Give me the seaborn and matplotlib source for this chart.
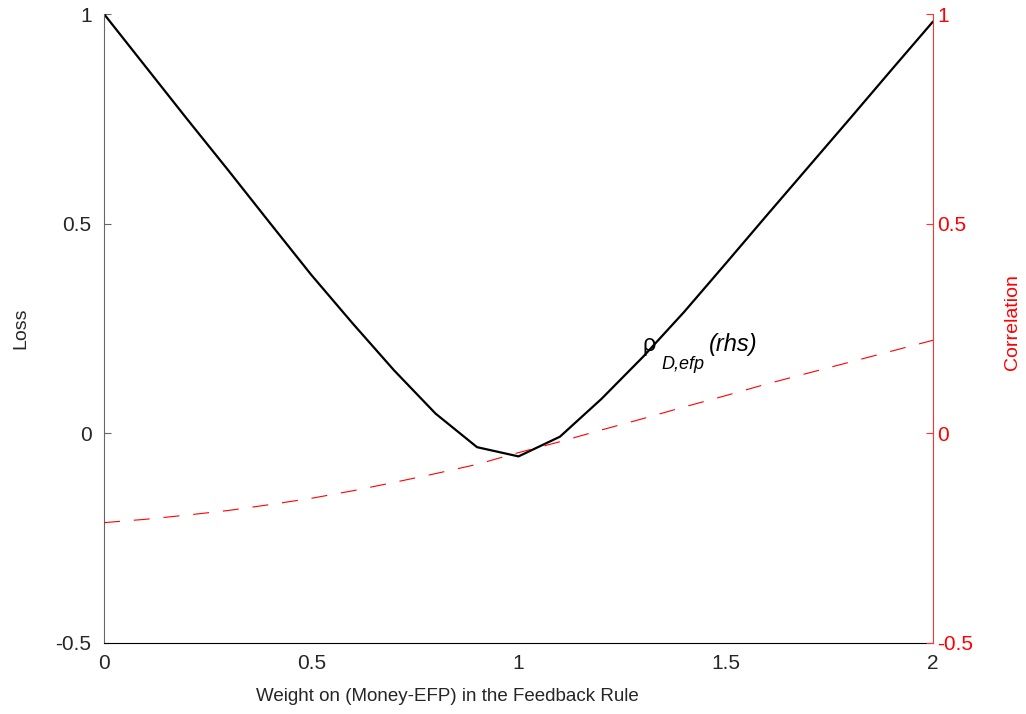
import numpy as np
import pandas as pd
import matplotlib
matplotlib.use("Agg")
import matplotlib.pyplot as plt
import seaborn as sns

# ---- data ----
weights = [0.0, 0.1, 0.2, 0.3, 0.4, 0.5, 0.6, 0.7, 0.8, 0.9, 1.0,
           1.1, 1.2, 1.3, 1.4, 1.5, 1.6, 1.7, 1.8, 1.9, 2.0]
loss = [1.000, 0.875, 0.750, 0.627, 0.502, 0.378, 0.262, 0.150, 0.047, -0.033, -0.055,
        -0.008, 0.082, 0.182, 0.290, 0.405, 0.521, 0.636, 0.751, 0.867, 0.982]
correlation = [-0.213, -0.205, -0.195, -0.184, -0.170, -0.155, -0.137, -0.117, -0.096, -0.074, -0.046,
               -0.020, 0.008, 0.035, 0.063, 0.090, 0.118, 0.144, 0.170, 0.196, 0.222]
x_ticks = [0, 0.5, 1, 1.5, 2]
x_ticklabels = ["0", "0.5", "1", "1.5", "2"]
y_ticks = [-0.5, 0, 0.5, 1]
y_ticklabels = ["-0.5", "0", "0.5", "1"]

df = pd.DataFrame({"w": weights, "loss": loss, "corr": correlation})

sns.set_style("white")
plt.rcParams["font.family"] = ["Liberation Sans", "DejaVu Sans"]

fig = plt.figure(figsize=(10.26, 7.14), dpi=100)
ax = fig.add_axes([104/1026, 1-643/714, (933-104)/1026, (643-14)/714])
ax2 = ax.twinx()

sns.lineplot(data=df, x="w", y="loss", ax=ax, color="black", lw=1.6)
lw2 = 0.8
sns.lineplot(data=df, x="w", y="corr", ax=ax2, color="red", lw=lw2)
ax2.lines[0].set_linestyle((0, (11.5/lw2, 10/lw2)))

for a in (ax, ax2):
    a.set_xlim(0, 2)
    a.set_ylim(-0.5, 1)
    a.grid(False)
    a.spines["top"].set_visible(False)

ax.spines["left"].set_color("#666666")
ax.spines["bottom"].set_color("black")
ax.spines["right"].set_visible(False)
ax2.spines["left"].set_visible(False)
ax2.spines["bottom"].set_visible(False)
ax2.spines["right"].set_color("#ff3333")

ax.set_xticks(x_ticks)
ax.set_xticklabels(x_ticklabels)
ax.set_yticks(y_ticks)
ax.set_yticklabels(y_ticklabels)
ax2.set_yticks(y_ticks)
ax2.set_yticklabels(y_ticklabels)

ax.tick_params(axis="x", direction="in", length=5, width=0.8, color="black",
               labelsize=15, pad=8)
ax.tick_params(axis="y", direction="in", length=5, width=0.8, color="#666666",
               labelsize=15, pad=9, left=True)
ax2.tick_params(axis="y", direction="in", length=5, width=0.8, color="#ff3333",
                labelsize=15, pad=3, labelcolor="red", right=True)

ax.set_xlabel("Weight on (Money-EFP) in the Feedback Rule", fontsize=13.5)
ax.xaxis.set_label_coords(0.414, -0.072)
ax.set_ylabel("Loss", fontsize=14)
ax.yaxis.set_label_coords(-0.09, 0.5)
ax2.set_ylabel("Correlation", fontsize=14, color="red")
ax2.yaxis.set_label_coords(1.086, 0.51)

# label "ρ_{D,efp}(rhs)"
anchor = (1.3, 0.197)
ax.annotate("ρ", xy=anchor, xycoords="data", xytext=(0, 0), textcoords="offset pixels",
            fontsize=17, ha="left", va="baseline", color="black")
ax.annotate("D,efp", xy=anchor, xycoords="data", xytext=(19, -18), textcoords="offset pixels",
            fontsize=13, fontstyle="italic", ha="left", va="baseline", color="black")
ax.annotate("(rhs)", xy=anchor, xycoords="data", xytext=(66, 0), textcoords="offset pixels",
            fontsize=17, fontstyle="italic", ha="left", va="baseline", color="black")

fig.savefig("out.png", dpi=100)
